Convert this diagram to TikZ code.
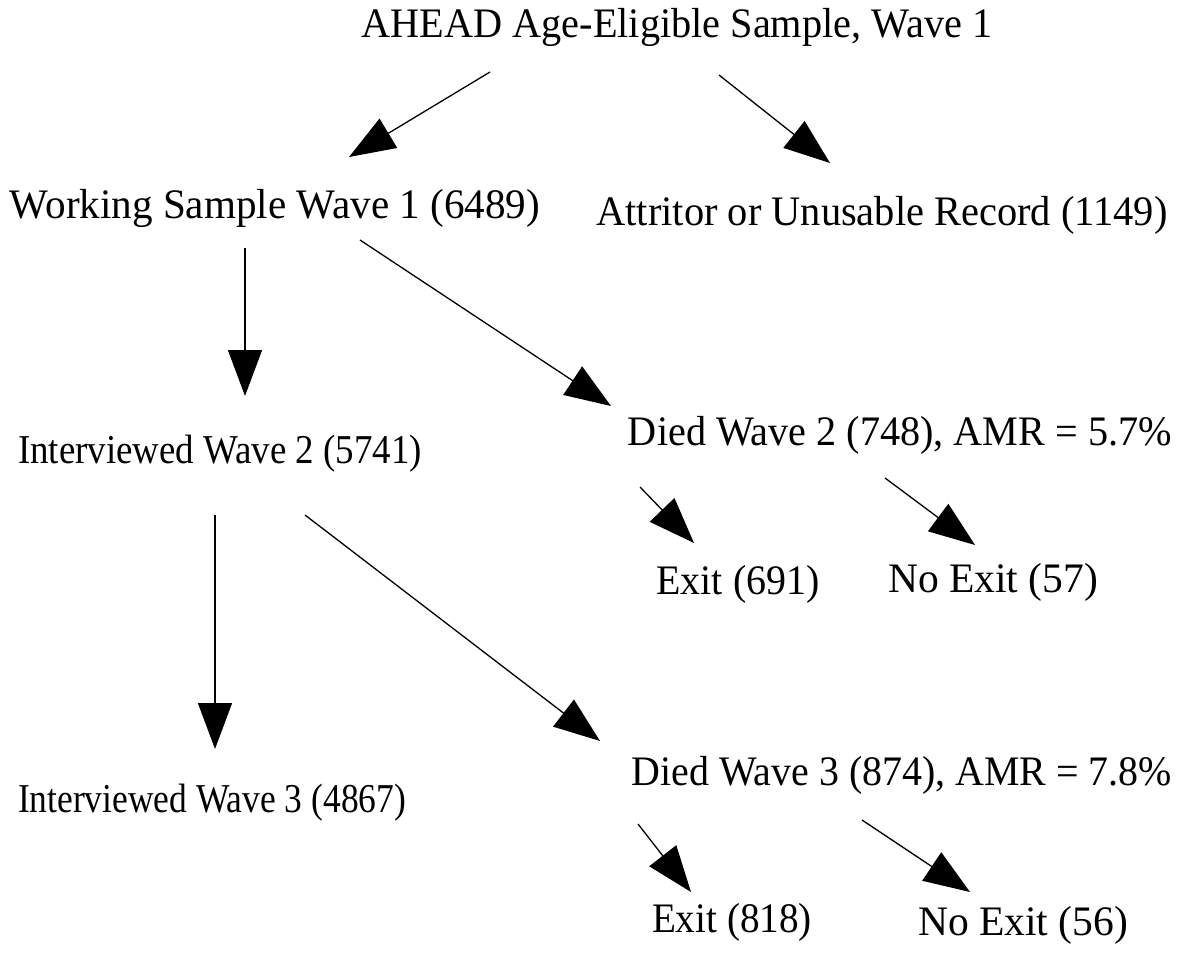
\documentclass[tikz,border=0pt]{standalone}
\usepackage{fontspec}
\setmainfont{Liberation Serif}
\usetikzlibrary{arrows.meta,calc}
\newcommand{\fitw}[2]{\resizebox{#1pt}{\height}{#2}}
\begin{document}
\begin{tikzpicture}[x=1pt,y=-1pt,
  lbl/.style={anchor=base,inner sep=0pt,font=\fontsize{42}{50}\selectfont},
  lbls/.style={lbl,font=\fontsize{41}{49}\selectfont},
  arr/.style={line width=1.3pt,-{Triangle[length=46pt,width=34pt]}}]
\useasboundingbox (0,0) rectangle (1193,964);
\node [lbl] (ahead) at (677,37) {\fitw{631}{AHEAD Age-Eligible Sample, Wave 1}};
\node [lbl] (work) at (275,218) {\fitw{530}{Working Sample Wave 1 (6489)}};
\node [lbl] (attr) at (882,225) {\fitw{571}{Attritor or Unusable Record (1149)}};
\node [lbls] (int2) at (220,463) {\fitw{404}{Interviewed Wave 2 (5741)}};
\node [lbl] (died2) at (900,445) {\fitw{544}{Died Wave 2 (748), AMR = 5.7\%}};
\node [lbl] (exit1) at (738,594) {\fitw{163}{Exit (691)}};
\node [lbl] (noexit1) at (993,592) {\fitw{210}{No Exit (57)}};
\node [lbls] (int3) at (212,812) {\fitw{388}{Interviewed Wave 3 (4867)}};
\node [lbl] (died3) at (902,785) {\fitw{540}{Died Wave 3 (874), AMR = 7.8\%}};
\node [lbl] (exit2) at (732,932) {\fitw{160}{Exit (818)}};
\node [lbl] (noexit2) at (1023,935) {\fitw{210}{No Exit (56)}};
\draw [arr] ($(ahead.base)+(-187,35)$) -- ($(work.base)+(74,-61)$);
\draw [arr] ($(ahead.base)+(42,38)$) -- ($(attr.base)+(-52,-62)$);
\draw [arr] ($(work.base)+(-30,30)$) -- ($(int2.base)+(25,-67)$);
\draw [arr] ($(work.base)+(85,22)$) -- ($(died2.base)+(-289,-39)$);
\draw [arr] ($(died2.base)+(-260,42)$) -- ($(exit1.base)+(-44,-51)$);
\draw [arr] ($(died2.base)+(-15,33)$) -- ($(noexit1.base)+(-18,-47)$);
\draw [arr] ($(int2.base)+(-5,52)$) -- ($(int3.base)+(3,-63)$);
\draw [arr] ($(int2.base)+(85,52)$) -- ($(died3.base)+(-302,-44)$);
\draw [arr] ($(died3.base)+(-264,39)$) -- ($(exit2.base)+(-41,-40)$);
\draw [arr] ($(died3.base)+(-40,35)$) -- ($(noexit2.base)+(-53,-43)$);
\end{tikzpicture}
\end{document}
